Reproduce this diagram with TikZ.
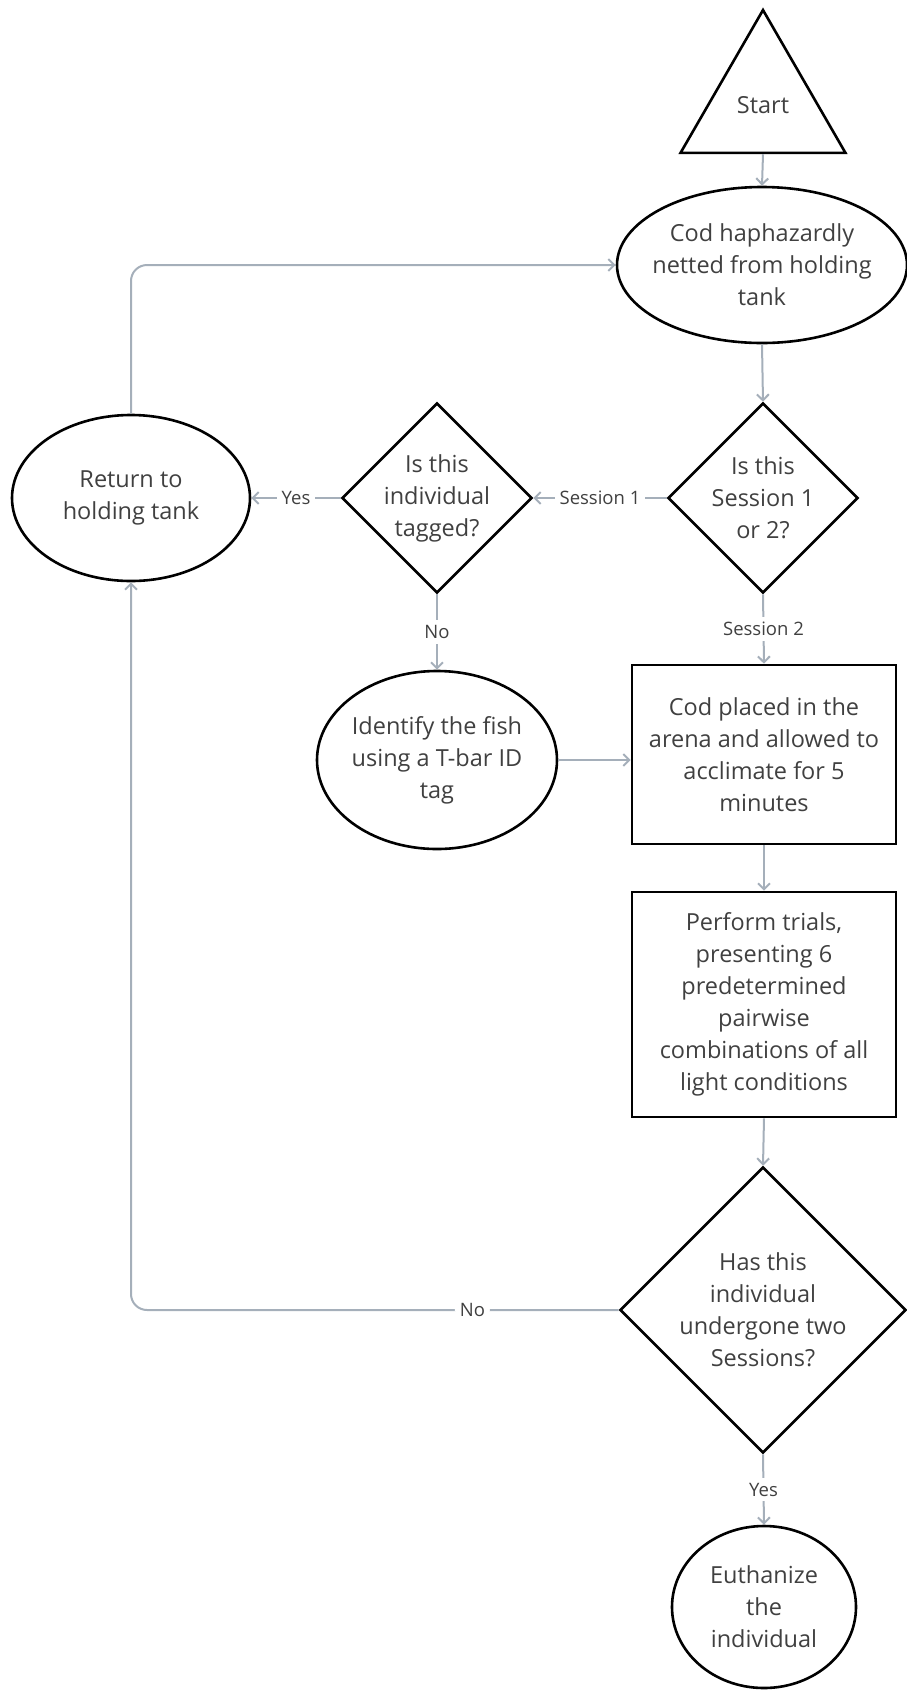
\documentclass[tikz,border=0pt]{standalone}
\usepackage{fontspec}
\setmainfont{Open Sans}
\usepackage{tikz}
\usetikzlibrary{arrows.meta,positioning,shapes.geometric}
\definecolor{flowgray}{RGB}{165,175,186}
\definecolor{inkgray}{RGB}{64,64,64}

\begin{document}
\begin{tikzpicture}[x=1pt,y=-1pt,
    every node/.style={font=\fontsize{23.5}{32}\selectfont,text=inkgray,align=center,inner sep=0pt},
    box/.style={draw=black,line width=2.6pt},
    oval/.style={box,ellipse},
    choice/.style={box,diamond,aspect=1,inner sep=-12pt},
    flow/.style={draw=flowgray,line width=2pt,-{Straight Barb[length=6pt,width=12pt]}},
    tag/.style={fill=white,font=\fontsize{18.5}{21}\selectfont,inner sep=5pt}]
  \useasboundingbox (0,0) rectangle (906,1690);
  \node[box,regular polygon,regular polygon sides=3,minimum size=190.5pt] (start) at (763,105.3){\raisebox{-8pt}{Start}};
  \node[oval,minimum width=290pt,minimum height=156pt,inner xsep=-18pt] (netted) at (762,265){Cod haphazardly\\netted from holding\\tank};
  \node[choice,minimum width=190pt,minimum height=190pt] (session) at (763,498){Is this\\Session 1\\or 2?};
  \node[choice,minimum width=190pt,minimum height=190pt] (tagged) at (437,498){Is this\\individual\\tagged?};
  \node[oval,minimum width=238pt,minimum height=166pt] (back) at (131,498){Return to\\holding tank};
  \node[oval,minimum width=240pt,minimum height=178pt,inner xsep=-24pt] (tagfish) at (437,760){Identify the fish\\using a T-bar ID\\tag};
  \node[box,minimum width=264pt,minimum height=179pt] (arena) at (764,754.5){Cod placed in the\\arena and allowed to\\acclimate for 5\\minutes};
  \node[box,minimum width=264pt,minimum height=225pt] (trials) at (764,1004.5){Perform trials,\\presenting 6\\predetermined\\pairwise\\combinations of all\\light conditions};
  \node[choice,minimum width=286pt,minimum height=286pt] (twice) at (763,1310){Has this\\individual\\undergone two\\Sessions?};
  \node[oval,minimum width=184pt,minimum height=162pt] (cull) at (764,1607){Euthanize\\the\\individual};

  \draw[flow] (start.south) -- (netted.north);
  \draw[flow] (netted.south) -- (session.north);
  \draw[flow] (session.west) -- node[tag]{Session 1} (tagged.east);
  \draw[flow] (tagged.west) -- node[tag]{Yes} (back.east);
  \draw[flow] (tagged.south) -- node[tag]{No} (tagfish.north);
  \draw[flow] (session.south) -- node[tag]{Session 2} (arena.north);
  \draw[flow] (tagfish.east) -- (tagfish.east -| arena.west);
  \draw[flow] (arena.south) -- (trials.north);
  \draw[flow] (trials.south) -- (twice.north);
  \draw[flow] (twice.south) -- node[tag]{Yes} (cull.north);
  \draw[flow,rounded corners=16pt] (twice.west) -- node[tag,pos=0.3]{No} (back.south |- twice.west) -- (back.south);
  \draw[flow,rounded corners=16pt] (back.north) |- (netted.west);
\end{tikzpicture}
\end{document}
